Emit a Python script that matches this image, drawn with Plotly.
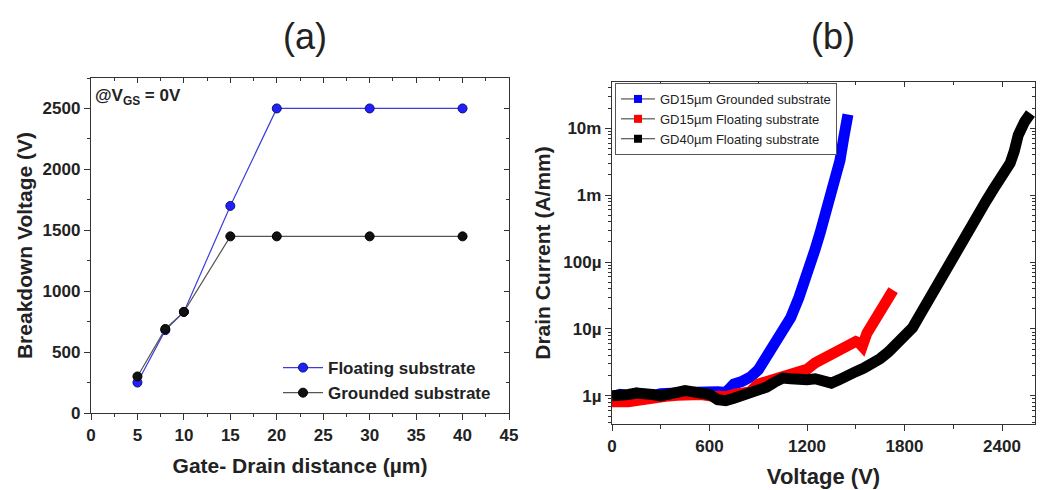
import plotly.graph_objects as go

# ---------- Panel (a) data ----------
gd_distance = [5, 8, 10, 15, 20, 30, 40]
bv_floating = [250, 680, 830, 1700, 2500, 2500, 2500]
bv_grounded = [300, 690, 830, 1450, 1450, 1450, 1450]

# ---------- Panel (b) data (current in µA/mm) ----------
v_gd15_grounded = [0, 50, 100, 150, 200, 250, 300, 350, 400, 450, 500, 550, 600, 650, 700,
                   750, 800, 850, 900, 950, 1000, 1050, 1100, 1150, 1200, 1250, 1280, 1300,
                   1342, 1370, 1403, 1425, 1452]
i_gd15_grounded = [0.97, 1.05, 1.0, 1.1, 1.05, 1.0, 1.08, 1.05, 1.1, 1.12, 1.15, 1.1, 1.2, 1.15, 1.12,
                   1.5, 1.65, 1.9, 2.45, 3.8, 6.0, 8.9, 14.8, 29.5, 60, 155, 270, 390,
                   850, 1500, 3300, 7000, 16000]

v_gd15_floating = [0, 50, 100, 150, 200, 250, 300, 350, 400, 450, 500, 550, 600, 650, 700,
                   750, 800, 850, 900, 950, 1000, 1050, 1100, 1150, 1200, 1250, 1300, 1350,
                   1400, 1450, 1500, 1520, 1540, 1569, 1600, 1650, 1700, 1730]
i_gd15_floating = [0.82, 0.8, 0.82, 0.85, 0.9, 0.95, 0.92, 1.0, 1.02, 1.05, 1.1, 1.05, 1.0, 0.95, 0.98,
                   1.05, 1.05, 1.15, 1.5, 1.65, 1.8, 1.95, 2.05, 2.3, 2.5, 3.1, 3.6, 4.1,
                   4.8, 5.5, 6.5, 6.2, 5.5, 8.7, 11.7, 19, 28, 38]

v_gd40_floating = [0, 50, 100, 150, 200, 250, 300, 350, 400, 450, 500, 550, 600, 650, 700,
                   750, 800, 850, 900, 950, 1000, 1050, 1100, 1150, 1200, 1250, 1300, 1350,
                   1400, 1450, 1500, 1550, 1600, 1650, 1700, 1750, 1800, 1850, 1900, 1950,
                   2000, 2050, 2100, 2150, 2200, 2250, 2300, 2350, 2400, 2450, 2475, 2500,
                   2540, 2575]
i_gd40_floating = [1.0, 1.0, 1.05, 1.1, 1.12, 1.05, 1.0, 1.05, 1.15, 1.2, 1.15, 1.1, 1.05, 0.88, 0.85,
                   0.92, 1.0, 1.1, 1.2, 1.35, 1.6, 1.85, 1.8, 1.7, 1.75, 1.8, 1.75, 1.55,
                   1.75, 2.1, 2.3, 2.6, 3.0, 3.6, 4.5, 5.8, 7.5, 10.5, 17, 28,
                   47, 78, 123, 195, 310, 500, 800, 1260, 1950, 3000, 4500, 7900,
                   12600, 16600]

log_tick_vals = [1e-6, 1e-5, 1e-4, 1e-3, 1e-2]
log_tick_text = ["1µ", "10µ", "100µ", "1m", "10m"]
log_minor_vals = [m * d for d in [1e-7, 1e-6, 1e-5, 1e-4, 1e-3, 1e-2] for m in range(2, 10)]

FONT = "Liberation Sans, Arial, sans-serif"
W, H = 1046, 490
ML, MR, MT, MB = 91, 11, 78, 66
PW, PH = W - ML - MR, H - MT - MB


def px(xp):
    return (xp - ML) / PW


def py(yp):
    return (H - MB - yp) / PH


fig = go.Figure()

# Panel (a)
fig.add_trace(go.Scatter(
    x=gd_distance, y=bv_floating, mode="lines+markers", name="<b>Floating substrate</b>",
    line=dict(color="#3c3cdc", width=1.2),
    marker=dict(symbol="circle", size=9, color="#2020ff", line=dict(color="#10106a", width=1)),
    xaxis="x", yaxis="y", legend="legend2"))
fig.add_trace(go.Scatter(
    x=gd_distance, y=bv_grounded, mode="lines+markers", name="<b>Grounded substrate</b>",
    line=dict(color="#555555", width=1.2),
    marker=dict(symbol="circle", size=9, color="#111111", line=dict(color="#000000", width=1)),
    xaxis="x", yaxis="y", legend="legend2"))

# Panel (b)
series_b = [
    ("GD15µm Grounded substrate", v_gd15_grounded, i_gd15_grounded, "#0000ff"),
    ("GD15µm Floating substrate", v_gd15_floating, i_gd15_floating, "#ff0000"),
    ("GD40µm Floating substrate", v_gd40_floating, i_gd40_floating, "#000000"),
]
for name, vx, iy, col in series_b:
    fig.add_trace(go.Scatter(
        x=vx, y=[v * 1e-6 for v in iy], mode="lines", name=name,
        line=dict(color=col, width=11), showlegend=False,
        xaxis="x2", yaxis="y2"))
for name, vx, iy, col in series_b:
    fig.add_trace(go.Scatter(
        x=[None], y=[None], mode="lines+markers", name=name,
        line=dict(color="#333333", width=1),
        marker=dict(symbol="square", size=8, color=col),
        xaxis="x2", yaxis="y2", legend="legend"))

# transparent helper points so that the inside-tick frame axes (top/right) are drawn
hidden = dict(mode="markers", marker=dict(opacity=0), showlegend=False, hoverinfo="skip")
fig.add_trace(go.Scatter(x=[gd_distance[0]], y=[bv_floating[0]], xaxis="x3", yaxis="y", **hidden))
fig.add_trace(go.Scatter(x=[gd_distance[0]], y=[bv_floating[0]], xaxis="x", yaxis="y3", **hidden))
fig.add_trace(go.Scatter(x=[v_gd15_grounded[1]], y=[i_gd15_grounded[1] * 1e-6], xaxis="x4", yaxis="y2", **hidden))
fig.add_trace(go.Scatter(x=[v_gd15_grounded[1]], y=[i_gd15_grounded[1] * 1e-6], xaxis="x2", yaxis="y4", **hidden))

LC = "#333333"
axis_common = dict(showline=True, linecolor=LC, linewidth=1.3, showgrid=False, automargin=False,
                   zeroline=False, ticks="outside", tickcolor=LC, tickwidth=1.3, mirror=True,
                   ticklen=6, tickfont=dict(family=FONT, size=17, color="#222222"))
frame_common = dict(showline=False, ticks="inside", ticklen=5,
                    tickcolor=LC, tickwidth=1.3, showticklabels=False, showgrid=False,
                    zeroline=False, automargin=False)

xa_dom = [0, px(509)]
ya_dom = [py(413), py(78)]
xb_dom = [px(612), 1]
yb_dom = [0, py(82)]

fig.update_layout(
    width=W, height=H,
    margin=dict(l=ML, r=MR, t=MT, b=MB),
    paper_bgcolor="white", plot_bgcolor="white",
    font=dict(family=FONT, color="#222222"),
    xaxis=dict(domain=xa_dom, anchor="y", range=[0, 45], dtick=5, tick0=0,
               minor=dict(ticks="outside", ticklen=3, dtick=2.5, tickcolor=LC),
               title=dict(text="<b>Gate- Drain distance (µm)</b>", font=dict(family=FONT, size=21), standoff=14),
               tickprefix="<b>", ticksuffix="</b>", **axis_common),
    yaxis=dict(domain=ya_dom, anchor="x", range=[0, 2750], dtick=500, tick0=0,
               minor=dict(ticks="outside", ticklen=3, dtick=250, tickcolor=LC),
               title=dict(text="<b>Breakdown Voltage (V)</b>", font=dict(family=FONT, size=21), standoff=4),
               tickprefix="<b>", ticksuffix="</b>", **axis_common),
    xaxis3=dict(overlaying="x", anchor="y", side="top", range=[0, 45], dtick=5, tick0=0,
                minor=dict(ticks="inside", ticklen=3, dtick=2.5, tickcolor=LC), **frame_common),
    yaxis3=dict(overlaying="y", anchor="x", side="right", range=[0, 2750], dtick=500, tick0=0,
                minor=dict(ticks="inside", ticklen=3, dtick=250, tickcolor=LC), **frame_common),
    xaxis2=dict(domain=xb_dom, anchor="y2", range=[0, 2603], dtick=600, tick0=0,
                minor=dict(ticks="outside", ticklen=4, dtick=300, tickcolor=LC),
                title=dict(text="<b>Voltage (V)</b>", font=dict(family=FONT, size=22), standoff=14),
                tickprefix="<b>", ticksuffix="</b>", **axis_common),
    yaxis2=dict(domain=yb_dom, anchor="x2", type="log", range=[-6.42, -1.31],
                tickmode="array", tickvals=log_tick_vals, ticktext=["<b>%s</b>" % t for t in log_tick_text],
                minor=dict(ticks="outside", ticklen=3, tickmode="array", tickvals=log_minor_vals,
                           tickcolor=LC),
                title=dict(text="<b>Drain Current (A/mm)</b>", font=dict(family=FONT, size=21), standoff=6),
                **axis_common),
    xaxis4=dict(overlaying="x2", anchor="y2", side="top", range=[0, 2603], dtick=600, tick0=0,
                minor=dict(ticks="inside", ticklen=3, dtick=300, tickcolor=LC), **frame_common),
    yaxis4=dict(overlaying="y2", anchor="x2", side="right", type="log", range=[-6.42, -1.31],
                tickmode="array", tickvals=log_tick_vals,
                minor=dict(ticks="inside", ticklen=3, tickmode="array", tickvals=log_minor_vals,
                           tickcolor=LC), **frame_common),
    legend=dict(x=px(615), y=py(83), xanchor="left", yanchor="top",
                bgcolor="white", bordercolor="#555555", borderwidth=1,
                font=dict(family=FONT, size=13, color="#222222"),
                tracegroupgap=0, itemwidth=34),
    legend2=dict(x=px(278), y=py(350), xanchor="left", yanchor="top",
                 bgcolor="rgba(0,0,0,0)", borderwidth=0,
                 font=dict(family=FONT, size=17, color="#222222"),
                 tracegroupgap=0, itemwidth=40),
    annotations=[
        dict(text="(a)", x=px(305), y=py(36), xref="paper", yref="paper",
             xanchor="center", yanchor="middle",
             showarrow=False, font=dict(family=FONT, size=36, color="#222222")),
        dict(text="(b)", x=px(833), y=py(36), xref="paper", yref="paper",
             xanchor="center", yanchor="middle",
             showarrow=False, font=dict(family=FONT, size=36, color="#222222")),
        dict(text="<b>@V<sub>GS</sub> = 0V</b>", x=px(93), y=py(97), xref="paper",
             yref="paper", xanchor="left", yanchor="middle", showarrow=False,
             font=dict(family=FONT, size=17, color="#222222")),
    ],
)

fig.write_html("out.html", config={"displayModeBar": False})

# remove the default 8px page margin so the figure sits exactly in the window
with open("out.html", encoding="utf-8") as f:
    html = f.read()
html = html.replace("<head>", "<head><style>html,body{margin:0;padding:0;overflow:hidden;}</style>", 1)
with open("out.html", "w", encoding="utf-8") as f:
    f.write(html)
